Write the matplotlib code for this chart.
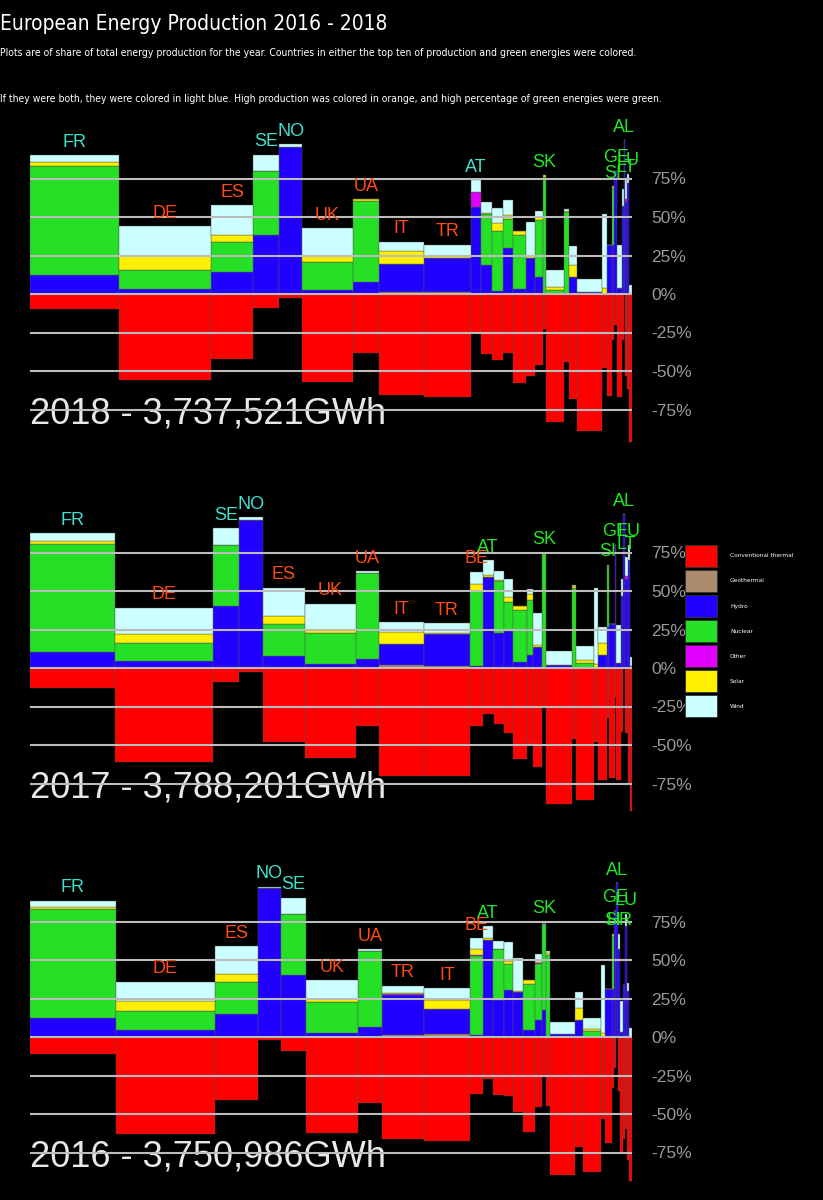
import numpy as np
import matplotlib
matplotlib.use("Agg")
import matplotlib.pyplot as plt
from matplotlib.patches import Patch
from matplotlib import font_manager

# --- data (shares in % of each country's production, production in TWh) ---
years = [2018, 2017, 2016]
totals_gwh = [3737521, 3788201, 3750986]

sources = ["Conventional thermal", "Geothermal", "Hydro", "Nuclear", "Other", "Solar", "Wind"]
source_colors = ["#ff0000", "#ab8b6e", "#2200ff", "#26e026", "#e100ff", "#fff000", "#ccffff"]

countries_2018 = ["FR", "DE", "ES", "SE", "NO", "UK", "UA", "IT", "TR", "AT", "", "", "", "", "", "",
                  "SK", "", "", "", "", "", "", "SI", "GE", "", "", "AL", "LT", "LU", ""]
prod_2018 = [553, 571, 261, 161, 143, 317, 161, 279, 292, 62, 68, 68, 62, 81, 56, 50,
             19, 112, 31, 50, 155, 31, 31, 12, 19, 31, 9, 9, 12, 12, 19]
geo_2018 = [0, 0, 0, 0, 0, 0, 0, 1.5, 1.5, 0, 0, 0, 0, 0, 0, 0,
            0, 0, 0, 0, 0, 0, 0, 0, 0, 0, 0, 0, 0, 0, 0]
hydro_2018 = [12.5, 3.3, 14, 38.6, 95.2, 2.6, 7.5, 18, 22, 56.6, 19, 2, 30, 3, 23.5, 11,
              0, 0, 0, 11, 1.5, 0, 32, 32, 80, 4, 57, 100, 60, 72, 0]
nuclear_2018 = [70.8, 12.5, 20, 41.4, 0, 18.2, 53.2, 0, 0, 0, 33, 39, 19, 35, 0, 37,
                76, 2.6, 53, 0, 0, 0, 0, 37, 0, 0, 0, 0, 0, 0, 0]
other_2018 = [0, 0, 0, 0, 0, 0, 0, 0, 0, 9.4, 0, 0, 0, 0, 0, 0,
              0, 0, 0, 0, 0, 0, 0, 0, 0, 0, 0, 0, 2, 0, 0]
solar_2018 = [2.2, 8.8, 4.6, 0, 0, 3.8, 0.9, 8.3, 1, 0, 0.5, 5, 2, 3, 1, 2,
              1, 2.2, 1, 8, 0, 4, 0, 1, 0, 0, 0, 0, 0, 0, 0]
wind_2018 = [4.5, 19.3, 19.1, 10.4, 2.2, 18.2, 0, 6, 7.5, 8, 7.5, 10, 10, 0, 22, 4,
             0, 11, 1, 12, 8.5, 48, 0, 0, 0, 28, 11, 0, 12, 6, 6]
thermal_2018 = [9.9, 56, 41.9, 9.2, 2.4, 57, 38.4, 65.6, 67, 25.4, 39, 43, 38, 58, 53, 46,
                23, 83, 44, 68, 89, 48, 66, 30, 20, 67, 30, 0, 53, 62, 96]
both_2018 = ["FR", "SE", "NO", "AT"]
high_prod_2018 = ["DE", "ES", "UK", "UA", "IT", "TR"]
high_green_2018 = ["SK", "SI", "GE", "AL", "LT", "LU"]

countries_2017 = ["FR", "DE", "SE", "NO", "ES", "UK", "UA", "IT", "TR", "BE", "AT", "", "", "", "", "",
                  "SK", "", "", "", "", "", "SI", "", "GE", "", "", "AL", "LT", "LU", ""]
prod_2017 = [535, 617, 164, 151, 264, 321, 145, 283, 289, 82, 69, 63, 57, 88, 38, 57,
             25, 164, 25, 113, 25, 57, 13, 38, 6, 31, 13, 13, 19, 13, 13]
geo_2017 = [0, 0, 0, 0, 0, 0, 0, 2.1, 1.5, 0, 0, 0, 0, 0, 0, 0,
            0, 0, 0, 0, 0, 0, 0, 0, 0, 0, 0, 0, 0, 0, 1]
hydro_2017 = [10.2, 4.3, 40.5, 95.9, 7.9, 2.8, 6, 13.2, 20.5, 1.5, 59, 22.8, 24, 3.6, 8.5, 13.9,
              0, 2, 0, 0, 0, 8.5, 26.6, 28.3, 80, 3, 47, 100, 58, 70, 0]
nuclear_2017 = [70.6, 11.7, 39.5, 0, 20.9, 20, 55.8, 0, 0, 48.5, 0, 33.7, 18.6, 34.1, 35.5, 0,
                74, 0, 51.8, 3.2, 0, 0, 39.4, 0, 0, 0, 0, 0, 0, 0, 0]
other_2017 = [0, 0, 0, 0, 0, 0, 0, 0, 0, 0, 0, 0, 0, 0, 0, 0,
              0.5, 0, 0, 0, 0, 0, 0, 0, 0, 0, 0, 0, 2, 0, 0]
solar_2017 = [1.9, 6.4, 0, 0, 4.9, 2.1, 0, 8.1, 1, 4.3, 1.7, 0.6, 3.2, 2.8, 4, 1.1,
              0.5, 0, 1.2, 1.7, 2.8, 7.5, 1, 0, 0, 0, 0, 0, 0, 0, 0]
wind_2017 = [4.7, 16.6, 10.6, 2.1, 18.5, 16.7, 1.1, 6.4, 6.2, 8.1, 9.2, 6.2, 11.7, 0, 3, 20.6,
             0, 9.3, 1, 9.6, 49.2, 10.6, 0, 0, 0, 24.7, 10.5, 0, 12, 10, 6]
thermal_2017 = [13.2, 61, 9.2, 2.6, 47.9, 58.6, 37.5, 70.3, 70.3, 37.7, 29.8, 36.6, 42, 59, 49.4, 64,
                25.6, 88.4, 46, 85.9, 48, 73, 32.6, 71.4, 19, 72.5, 41.5, 0, 42, 75.6, 92.7]
both_2017 = ["FR", "SE", "NO"]
high_prod_2017 = ["DE", "ES", "UK", "UA", "IT", "TR", "BE"]
high_green_2017 = ["AT", "SK", "SI", "GE", "AL", "LT", "LU"]

countries_2016 = ["FR", "DE", "ES", "NO", "SE", "UK", "UA", "TR", "IT", "BE", "AT", "", "", "", "", "",
                  "SK", "", "", "", "", "", "", "SI", "GE", "AL", "HR", "", "", "LU", "", ""]
prod_2016 = [536, 617, 268, 143, 156, 324, 150, 262, 287, 81, 62, 69, 56, 62, 75, 44,
             25, 25, 156, 50, 112, 25, 44, 9, 16, 12, 12, 19, 12, 12, 12, 19]
geo_2016 = [0, 0, 0, 0, 0, 0, 0, 1.3, 1.9, 0, 0, 0, 0, 0, 0, 0,
            0, 0, 0, 0, 0, 0, 0, 0, 0, 0, 0, 0, 0, 0, 0, 0]
hydro_2016 = [12.1, 4.3, 14.9, 96.5, 40.5, 2.8, 6.2, 26.2, 16.2, 1, 63, 24, 30.5, 29, 4.5, 10.9,
              17.7, 0, 1.7, 10.9, 0, 0, 31, 31, 82, 100, 57, 3.4, 34, 72, 30, 0]
nuclear_2016 = [70.8, 12.7, 20.9, 0, 39.5, 20.2, 49.8, 0, 0, 51.4, 0, 33.3, 17, 0, 29.8, 36.6,
                56, 53.5, 0, 0, 3.8, 0, 0, 34.8, 0, 0, 0, 0, 0, 0, 0, 0]
other_2016 = [0.4, 0, 0, 0, 0, 0, 0, 0.4, 0, 1, 0, 0, 0, 0, 0, 0.5,
              1.1, 0, 0, 0, 0, 0, 0, 0, 0, 0, 0, 0, 0, 0, 0, 0]
solar_2016 = [1.1, 6.7, 4.9, 0, 0, 1.5, 0, 0.4, 6.2, 3.6, 1.6, 0, 1.7, 1, 2.6, 1,
              0, 1, 0, 8.1, 1.3, 2.3, 0, 1.2, 0, 0, 0, 0, 0, 0, 0, 0]
wind_2016 = [4.2, 12.3, 18.3, 1.1, 10.4, 12.5, 1, 4.9, 7.5, 7, 7.4, 5.1, 12.2, 21, 0, 5,
             0, 1.1, 8.1, 10, 7.3, 44.2, 0, 0, 0, 0, 10, 20.2, 0, 8, 5, 6]
thermal_2016 = [10.9, 63, 40.7, 1.9, 9.4, 62.2, 42.8, 66.3, 67.6, 37, 27.5, 37.7, 38.6, 48.4, 62, 45.6,
                25.4, 44.5, 89.7, 71.2, 87.6, 53.5, 69, 33, 20, 0, 35, 75.4, 66, 60, 80, 93.5]
both_2016 = ["FR", "NO", "SE"]
high_prod_2016 = ["DE", "ES", "UK", "UA", "TR", "IT", "BE"]
high_green_2016 = ["AT", "SK", "SI", "GE", "AL", "HR", "LU"]

label_colors = {"both": "#40e0d0", "prod": "#ff4a12", "green": "#22e622"}
year_ticks = [-75, -50, -25, 0, 25, 50, 75]

# --- fonts ---
installed = {f.name for f in font_manager.fontManager.ttflist}
narrow = "Liberation Sans Narrow" if "Liberation Sans Narrow" in installed else "DejaVu Sans"
sans = "Liberation Sans" if "Liberation Sans" in installed else "DejaVu Sans"

W, H = 823, 1200
fig = plt.figure(figsize=(W / 100, H / 100), dpi=100, facecolor="black")

px_per_pct = 1.54
zero_rows = [294, 668, 1037]


def draw_year(ax, countries, prod, parts, thermal, both, high_prod, high_green, year, total):
    prod = np.asarray(prod, dtype=float)
    left = np.concatenate([[0], np.cumsum(prod)[:-1]])
    bottom = np.zeros(len(prod))
    for vals, color in zip(parts, source_colors[1:]):
        vals = np.asarray(vals, dtype=float)
        ax.bar(left, vals, width=prod, bottom=bottom, align="edge", color=color,
               edgecolor="#555555", linewidth=0.3)
        bottom += vals
    ax.bar(left, -np.asarray(thermal, dtype=float), width=prod, align="edge",
           color=source_colors[0], edgecolor="#555555", linewidth=0.3)

    for i, c in enumerate(countries):
        if not c:
            continue
        if c in both:
            col = label_colors["both"]
        elif c in high_prod:
            col = label_colors["prod"]
        else:
            col = label_colors["green"]
        ax.text(left[i] + prod[i] / 2, bottom[i] + 5.5, c, color=col, ha="center",
                va="baseline", fontsize=13, family=sans, zorder=4)

    ax.text(0, -84, f"{year} - {total:,}GWh", color="#e8e8e8", fontsize=26,
            family=sans, ha="left", va="baseline", zorder=2)

    ax.set_xlim(0, prod.sum())
    ax.set_ylim(-100, 120)
    ax.set_facecolor("black")
    for s in ax.spines.values():
        s.set_visible(False)
    ax.set_xticks([])
    ax.yaxis.tick_right()
    ax.set_yticks(year_ticks)
    ax.set_yticklabels([f"{t}%" for t in year_ticks])
    ax.tick_params(axis="y", length=0, pad=14, labelsize=12.5, labelcolor="#9a9a9a")
    for lab in ax.get_yticklabels():
        lab.set_family(sans)
    ax.set_axisbelow(False)
    ax.grid(axis="y", color="#bcbcbc", linewidth=1.5)


panels = [
    (countries_2018, prod_2018, [geo_2018, hydro_2018, nuclear_2018, other_2018, solar_2018, wind_2018],
     thermal_2018, both_2018, high_prod_2018, high_green_2018),
    (countries_2017, prod_2017, [geo_2017, hydro_2017, nuclear_2017, other_2017, solar_2017, wind_2017],
     thermal_2017, both_2017, high_prod_2017, high_green_2017),
    (countries_2016, prod_2016, [geo_2016, hydro_2016, nuclear_2016, other_2016, solar_2016, wind_2016],
     thermal_2016, both_2016, high_prod_2016, high_green_2016),
]

for k, (panel, year, total, zr) in enumerate(zip(panels, years, totals_gwh, zero_rows)):
    top_px = zr - 120 * px_per_pct
    bot_px = zr + 100 * px_per_pct
    ax = fig.add_axes([30 / W, 1 - bot_px / H, 602 / W, (bot_px - top_px) / H])
    draw_year(ax, *panel, year, total)

# titles
fig.text(0, 1 - 30 / H, "European Energy Production 2016 - 2018", color="white",
         fontsize=15, family=narrow, fontstretch="condensed", ha="left", va="baseline")
fig.text(0, 1 - 56 / H,
         "Plots are of share of total energy production for the year. Countries in either the top ten "
         "of production and green energies were colored.",
         color="white", fontsize=7.5, family=narrow, fontstretch="condensed", ha="left", va="baseline")
fig.text(0, 1 - 102 / H,
         "If they were both, they were colored in light blue. High production was colored in orange, "
         "and high percentage of green energies were green.",
         color="white", fontsize=7.5, family=narrow, fontstretch="condensed", ha="left", va="baseline")

# legend
handles = [Patch(facecolor=c, edgecolor="#333333", linewidth=0.6, label=s)
           for s, c in zip(sources, source_colors)]
fs = 4.2
fs_px = fs * 100 / 72
fig.legend(handles=handles, loc="upper left", bbox_to_anchor=(685 / W, 1 - 545 / H),
           bbox_transform=fig.transFigure, frameon=False, fontsize=fs, labelcolor="white",
           handlelength=32 / fs_px, handleheight=32 / fs_px, labelspacing=2.8 / fs_px,
           handletextpad=13 / fs_px, borderpad=0, borderaxespad=0)

fig.savefig("out.png", dpi=100, facecolor="black")
